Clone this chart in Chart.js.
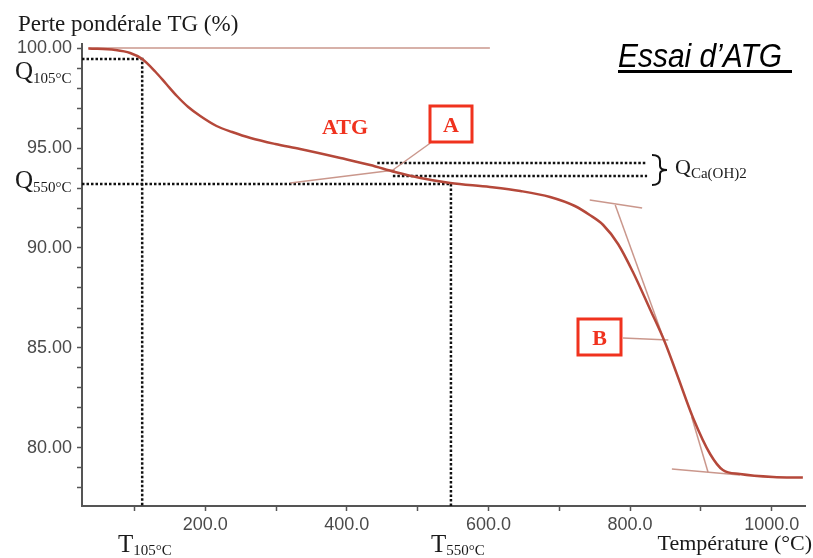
<!DOCTYPE html>
<html>
<head>
<meta charset="utf-8">
<script src="https://cdn.jsdelivr.net/npm/chart.js@4.4.1/dist/chart.umd.min.js"></script>
<style>
html, body { margin: 0; padding: 0; background: #fff; }
#wrap { width: 813px; height: 558px; }
</style>
</head>
<body>
<div id="wrap"><canvas id="atg" width="813" height="558"></canvas></div>
<script>
// courbe ATG (température °C / perte pondérale %)
const temperature = [35, 73, 94, 111, 130, 145, 160, 176, 193, 216, 238, 264, 299, 334, 391, 433, 468, 504, 546, 602, 645, 687, 722, 743, 762, 783, 804, 828, 849, 866, 889, 913, 931, 955, 1002, 1044];
const perte = [99.98, 99.9, 99.75, 99.45, 98.8, 98.2, 97.6, 97.05, 96.6, 96.1, 95.8, 95.5, 95.2, 94.95, 94.5, 94.15, 93.8, 93.5, 93.25, 93.05, 92.85, 92.55, 92.1, 91.65, 91.15, 90.2, 88.8, 86.95, 85.3, 83.7, 81.5, 79.7, 78.9, 78.7, 78.55, 78.52];

// ligne de référence à 100 %
const refX = [35, 602];
const refY = [100, 100];

// tangentes et renvois (x, y en unités du graphe)
const tangenteA = [[320, 93.25], [468, 93.9]];
const renvoiA = [[465, 93.9], [518, 95.25]];
const tangenteHaut = [[743, 92.4], [817, 92.0]];
const tangenteB1 = [[779, 92.15], [849, 85.3]];
const renvoiB = [[790, 85.5], [854, 85.4]];
const tangenteB2 = [[887, 81.55], [910, 78.8]];
const tangenteBas = [[859, 78.95], [955, 78.65]];

// repères pointillés
const t105 = 111, q105 = 99.45;
const t550 = 547, q550 = 93.2;
const qCa = [94.25, 93.6];
const qCaDebut = [443, 465];
const qCaFin = 824;

const xMin = 26, xMax = 1047;
const yMin = 77.1, yMax = 100.2;

const pts = (xs, ys) => xs.map((x, i) => ({ x: x, y: ys[i] }));
const seg = s => s.map(p => ({ x: p[0], y: p[1] }));

const trait = 'rgba(196, 140, 128, 0.9)';
const pointille = {
    borderColor: '#111',
    borderWidth: 2.5,
    borderDash: [2.5, 2],
    pointRadius: 0,
    showLine: true,
    order: 2,
};

const datasets = [
    { data: pts(temperature, perte), borderColor: '#b5483a', borderWidth: 2.5, pointRadius: 0, showLine: true, tension: 0.4, cubicInterpolationMode: 'monotone', order: 0 },
    { data: pts(refX, refY), borderColor: trait, borderWidth: 1.5, pointRadius: 0, showLine: true, order: 1 },
];
[tangenteA, renvoiA, tangenteHaut, tangenteB1, renvoiB, tangenteB2, tangenteBas].forEach(s => {
    datasets.push({ data: seg(s), borderColor: trait, borderWidth: 1.5, pointRadius: 0, showLine: true, order: 1 });
});
datasets.push(Object.assign({ data: [{ x: xMin, y: q105 }, { x: t105, y: q105 }, { x: t105, y: yMin }] }, pointille));
datasets.push(Object.assign({ data: [{ x: xMin, y: q550 }, { x: t550, y: q550 }, { x: t550, y: yMin }] }, pointille));
qCa.forEach((q, i) => {
    datasets.push(Object.assign({ data: [{ x: qCaDebut[i], y: q }, { x: qCaFin, y: q }] }, pointille));
});

function indice(ctx, main, sub, x, y, size, subSize, drop) {
    ctx.font = size + 'px "Liberation Serif", "Times New Roman", serif';
    ctx.fillText(main, x, y);
    const w = ctx.measureText(main).width;
    ctx.font = subSize + 'px "Liberation Serif", "Times New Roman", serif';
    ctx.fillText(sub, x + w, y + drop);
}

const textes = {
    id: 'textes',
    afterDraw(chart) {
        const ctx = chart.ctx;
        ctx.save();
        ctx.textAlign = 'left';
        ctx.textBaseline = 'alphabetic';
        ctx.fillStyle = '#1a1a1a';

        ctx.font = '23px "Liberation Serif", "Times New Roman", serif';
        ctx.fillText('Perte pondérale TG (%)', 18, 31);

        indice(ctx, 'Q', '105°C', 15, 79, 25, 15, 4);
        indice(ctx, 'Q', '550°C', 15, 188, 25, 15, 4);
        indice(ctx, 'T', '105°C', 118, 552, 25, 15, 3);
        indice(ctx, 'T', '550°C', 431, 552, 25, 15, 3);
        indice(ctx, 'Q', 'Ca(OH)2', 675, 174, 22, 15, 4);

        ctx.textAlign = 'right';
        ctx.font = '22px "Liberation Serif", "Times New Roman", serif';
        ctx.fillText('Température (°C)', 812, 550);

        // titre
        ctx.textAlign = 'left';
        ctx.fillStyle = '#000';
        ctx.save();
        ctx.translate(618, 67);
        ctx.scale(0.88, 1);
        ctx.font = 'italic 34px "Liberation Sans", Arial, sans-serif';
        ctx.fillText('Essai d’ATG', 0, 0);
        ctx.restore();
        ctx.fillRect(618, 70, 174, 3);

        // accolade Q Ca(OH)2
        ctx.strokeStyle = '#111';
        ctx.lineWidth = 2;
        ctx.beginPath();
        ctx.moveTo(652, 155);
        ctx.quadraticCurveTo(660, 155, 660, 161);
        ctx.lineTo(660, 166);
        ctx.quadraticCurveTo(660, 170, 667, 170);
        ctx.quadraticCurveTo(660, 170, 660, 174);
        ctx.lineTo(660, 179);
        ctx.quadraticCurveTo(660, 185, 652, 185);
        ctx.stroke();

        // étiquettes rouges
        const rouge = '#f0321e';
        ctx.fillStyle = rouge;
        ctx.strokeStyle = rouge;
        ctx.font = 'bold 22px "Liberation Serif", "Times New Roman", serif';
        ctx.fillText('ATG', 322, 134);
        ctx.lineWidth = 3;
        ctx.strokeRect(430, 106, 42, 36);
        ctx.strokeRect(578, 319, 43, 36);
        ctx.textAlign = 'center';
        ctx.fillText('A', 451, 132);
        ctx.fillText('B', 599.5, 345);
        ctx.restore();
    },
};

new Chart(document.getElementById('atg'), {
    type: 'scatter',
    data: { datasets: datasets },
    options: {
        responsive: false,
        animation: false,
        devicePixelRatio: 1,
        layout: { padding: { top: 44, right: 8, left: 0, bottom: 0 } },
        plugins: { legend: { display: false }, tooltip: { enabled: false } },
        scales: {
            x: {
                type: 'linear',
                min: xMin,
                max: xMax,
                afterBuildTicks: s => {
                    s.ticks = [100, 200, 300, 400, 500, 600, 700, 800, 900, 1000].map(v => ({ value: v }));
                },
                afterFit: s => { s.height = 52; },
                ticks: {
                    callback: v => (v % 200 === 0 ? v.toFixed(1) : ''),
                    color: '#4a4a4a',
                    font: { family: '"Liberation Sans", Arial, sans-serif', size: 18 },
                    padding: 3,
                    maxRotation: 0,
                    autoSkip: false,
                },
                grid: { drawOnChartArea: false, tickLength: 5, color: '#555', tickWidth: 1.5 },
                border: { color: '#555', width: 2 },
            },
            y: {
                min: yMin,
                max: yMax,
                afterBuildTicks: s => {
                    const t = [];
                    for (let v = 78; v <= 100; v++) t.push({ value: v });
                    s.ticks = t;
                },
                afterFit: s => { s.width = 82; },
                ticks: {
                    callback: v => (v % 5 === 0 ? v.toFixed(2) : ''),
                    color: '#4a4a4a',
                    font: { family: '"Liberation Sans", Arial, sans-serif', size: 18 },
                    padding: 5,
                    autoSkip: false,
                },
                grid: { drawOnChartArea: false, tickLength: 5, color: '#555', tickWidth: 1.5 },
                border: { color: '#555', width: 2 },
            },
        },
    },
    plugins: [textes],
});
</script>
</body>
</html>
